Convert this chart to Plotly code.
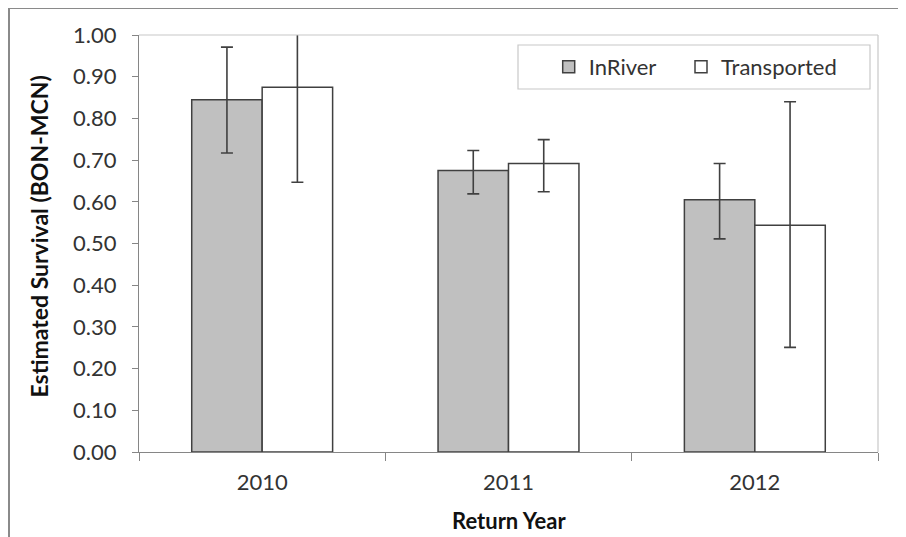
import plotly.graph_objects as go

years = ["2010", "2011", "2012"]
inriver = [0.845, 0.675, 0.605]
inriver_upper = [0.971, 0.723, 0.692]
inriver_lower = [0.717, 0.619, 0.511]
transported = [0.875, 0.692, 0.544]
transported_upper = [1.103, 0.749, 0.840]
transported_lower = [0.647, 0.624, 0.251]
y_ticks = [0.0, 0.1, 0.2, 0.3, 0.4, 0.5, 0.6, 0.7, 0.8, 0.9, 1.0]

# page body has an 8px margin; work in reference pixel coordinates
OFF = 8
W, H = 906 - OFF, 537 - OFF
L, R, T, B = 139, 878, 35, 452  # plot area in reference pixels

def px(x):
    return (x - L) / (R - L)

def py(y):
    return (B - y) / (B - T)

FONT = "Lato, 'Open Sans', sans-serif"
EDGE = "#404040"

def err(vals, up, lo):
    return dict(type="data", symmetric=False,
                array=[u - v for u, v in zip(up, vals)],
                arrayminus=[v - l for v, l in zip(vals, lo)],
                color=EDGE, thickness=1.6, width=6)

fig = go.Figure()
fig.add_trace(go.Bar(name="InRiver", x=years, y=inriver, legend="legend",
                     marker=dict(color="#c0c0c0", line=dict(color=EDGE, width=1.5)),
                     error_y=err(inriver, inriver_upper, inriver_lower)))
fig.add_trace(go.Bar(name="Transported", x=years, y=transported, legend="legend2",
                     marker=dict(color="#ffffff", line=dict(color=EDGE, width=1.5)),
                     error_y=err(transported, transported_upper, transported_lower)))

shapes = [
    dict(type="line", xref="paper", yref="paper", x0=px(9), x1=px(920), y0=py(8), y1=py(8),
         line=dict(color="#8a8a8a", width=2)),
    dict(type="line", xref="paper", yref="paper", x0=px(9), x1=px(9), y0=py(8), y1=py(560),
         line=dict(color="#8a8a8a", width=2)),
    dict(type="line", xref="paper", yref="paper", x0=0, x1=1, y0=1, y1=1,
         line=dict(color="#c8c8c8", width=1.2)),
    dict(type="line", xref="paper", yref="paper", x0=1, x1=1, y0=0, y1=1,
         line=dict(color="#c8c8c8", width=1.2)),
    dict(type="rect", xref="paper", yref="paper", x0=px(518), x1=px(870), y0=py(89), y1=py(45),
         line=dict(color="#c8c8c8", width=1.2), fillcolor="rgba(0,0,0,0)"),
]

annotations = [
    dict(text="<b>Return Year</b>", xref="paper", yref="paper", x=px(509), y=py(520),
         xanchor="center", yanchor="middle", showarrow=False,
         font=dict(family=FONT, size=22, color="#111")),
    dict(text="<b>Estimated Survival (BON-MCN)</b>", xref="paper", yref="paper",
         x=px(38), y=py(236.5), textangle=-90, xanchor="center", yanchor="middle",
         showarrow=False, font=dict(family=FONT, size=23, color="#111")),
]

leg_common = dict(orientation="h", xanchor="left", yanchor="top",
                  bgcolor="rgba(0,0,0,0)", borderwidth=0,
                  font=dict(family=FONT, size=22, color="#333333"), itemclick=False)

fig.update_layout(
    width=W, height=H,
    margin=dict(l=L - OFF, r=(906 - R), t=T - OFF, b=(537 - B), autoexpand=False),
    paper_bgcolor="white", plot_bgcolor="white",
    barmode="group", bargap=0.428, bargroupgap=0,
    font=dict(family=FONT, size=22, color="#333333"),
    showlegend=True,
    legend=dict(x=px(548.7), y=py(46), **leg_common),
    legend2=dict(x=px(681), y=py(46), **leg_common),
    shapes=shapes,
    annotations=annotations,
    xaxis=dict(showline=True, linecolor="#868686", linewidth=1.2, automargin=False,
               ticks="outside", tickson="boundaries", ticklen=8, tickcolor="#868686",
               showgrid=False, zeroline=False, ticklabelstandoff=10),
    yaxis=dict(range=[0, 1], tickvals=y_ticks, tickformat=".2f", automargin=False,
               showline=True, linecolor="#868686", linewidth=1.2,
               ticks="outside", ticklen=6, tickcolor="#868686",
               showgrid=False, zeroline=False, ticklabelstandoff=11),
)

fig.write_html("out.html")
